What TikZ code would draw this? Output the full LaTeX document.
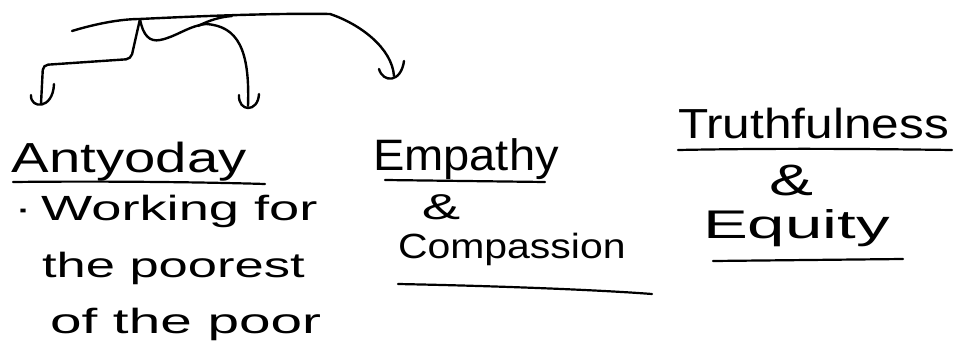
\documentclass[tikz,border=0pt]{standalone}
\usepackage{fontspec}
\setmainfont{Liberation Sans}
\usepackage{graphicx}
\newcommand\hwtext[3]{\fontsize{#1}{#1}\selectfont\scalebox{#2}[1]{#3}}
\tikzset{
  ink/.style={line width=2.4pt, line cap=round, line join=round, black},
  lbl/.style={inner sep=0pt, outer sep=0pt, anchor=base west},
  uline/.style={ink, line width=2.2pt}
}
\begin{document}
\begin{tikzpicture}[x=1pt,y=-1pt]
\useasboundingbox (0,0) rectangle (955,348);
% connector points
\coordinate (tl) at (72,31);
\coordinate (j) at (140,19);
\coordinate (tr) at (330,14);
\coordinate (hA) at (41,104);
\coordinate (hE) at (248,106);
\coordinate (hT) at (394,76);
% top line and branch to Truthfulness
\draw[ink] (tl) .. controls (95,24) and (120,19) .. (j)
  .. controls (200,16) and (280,13) .. (tr)
  .. controls (360,24) and (392,48) .. (hT);
% branch to Antyoday
\draw[ink, rounded corners=5pt] (j) -- (131,59) -- (43,65) -- (hA);
% branch to Empathy
\draw[ink] (j) .. controls (143,36) and (150,42) .. (160,40)
  .. controls (176,37) and (188,26) .. (206,24)
  .. controls (238,26) and (250,50) .. (hE);
\draw[ink] (198,26) .. controls (210,20) and (220,17) .. (232,16);
% cups
\draw[ink] ([shift={(-10,-9)}]hA) .. controls ([shift={(-11,5)}]hA) and ([shift={(12,6)}]hA) .. ([shift={(13,-20)}]hA);
\draw[ink] ([shift={(-9,-11)}]hE) .. controls ([shift={(-10,6)}]hE) and ([shift={(10,7)}]hE) .. ([shift={(11,-12)}]hE);
\draw[ink] ([shift={(-15,-7)}]hT) .. controls ([shift={(-11,7)}]hT) and ([shift={(7,7)}]hT) .. ([shift={(10,-15)}]hT);
% texts
\node[lbl] (ant) at (12,172) {\hwtext{42}{1.34}{Antyoday}};
\draw[uline] (13,182) .. controls (100,181) and (200,182) .. (265,184);
\node[lbl] (w1) at (14,220) {\hwtext{35}{1.55}{·\,Working for}};
\node[lbl] (w2) at (42,277) {\hwtext{35}{1.5}{the poorest}};
\node[lbl] (w3) at (50,333) {\hwtext{35}{1.62}{of the poor}};
\node[lbl] (emp) at (373,170) {\hwtext{44}{1.07}{Empathy}};
\draw[uline] (385,180) -- (545,182);
\node[lbl, anchor=base] (amp1) at (441,219) {\hwtext{36}{1.6}{\&}};
\node[lbl] (com) at (398,258) {\hwtext{35}{1.17}{Compassion}};
\draw[uline] (398,284) .. controls (500,286) and (600,290) .. (652,294);
\node[lbl] (tru) at (678,138) {\hwtext{42}{1.18}{Truthfulness}};
\draw[uline] (678,150) .. controls (780,148) and (880,149) .. (952,150);
\node[lbl, anchor=base] (amp2) at (791,195) {\hwtext{44}{1.5}{\&}};
\node[lbl] (equ) at (703,238) {\hwtext{40}{1.68}{Equity}};
\draw[uline] (713,261) -- (903,259);
\end{tikzpicture}
\end{document}
